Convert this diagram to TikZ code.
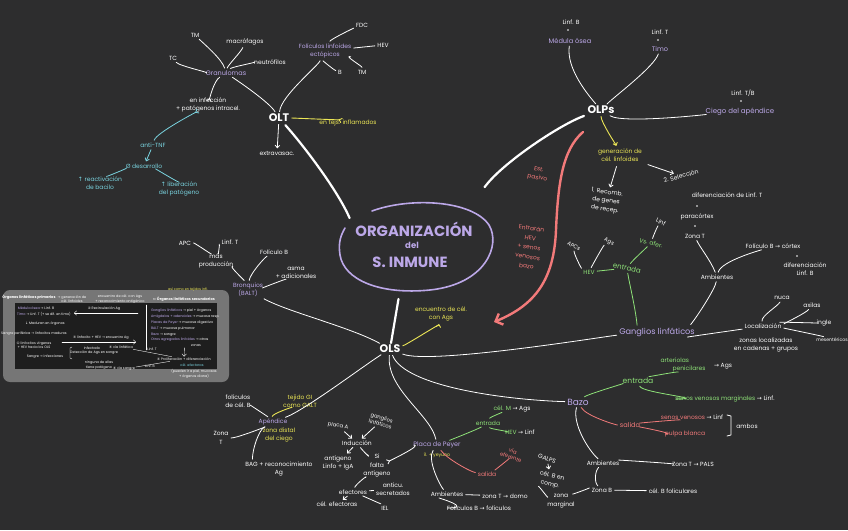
\documentclass[tikz,border=0pt]{standalone}
\usepackage{fontspec}
\setmainfont{Poppins}
\newfontfamily\symf{DejaVu Sans}
\usetikzlibrary{arrows.meta,calc}
\definecolor{board}{RGB}{45,45,46}
\definecolor{lila}{RGB}{188,168,232}
\definecolor{amar}{RGB}{236,230,86}
\definecolor{verde}{RGB}{142,226,120}
\definecolor{rosa}{RGB}{242,122,122}
\definecolor{cian}{RGB}{122,212,224}
\definecolor{marco}{RGB}{118,118,118}
\definecolor{fondo}{RGB}{30,30,30}
\newcommand{\sz}[2]{\fontsize{#1}{#2}\selectfont}
\newcommand{\flecha}{{\symf →}}

\begin{document}
\begin{tikzpicture}[x=1pt,y=-1pt,line cap=round,line join=round,
  >={Straight Barb[length=2.6pt,width=4.6pt]},
  every node/.style={inner sep=0.8pt,align=center,text=white,font=\sz{6}{8.5}},
  lav/.style={text=lila},
  ylw/.style={text=amar},
  grn/.style={text=verde},
  pnk/.style={text=rosa},
  cyn/.style={text=cian},
  hub/.style={font=\bfseries\sz{11}{13}},
  mini/.style={font=\sz{3.4}{4.4}},
  rama/.style={draw=white,line width=0.8pt,shorten >=1.5pt,shorten <=1.5pt},
  ramav/.style={rama,draw=verde},
  ramar/.style={rama,draw=rosa},
  ramay/.style={rama,draw=amar,line width=0.9pt},
  ramac/.style={rama,draw=cian},
  ramita/.style={draw=white,line width=0.35pt},
  tronco/.style={draw=white,line width=2.2pt,shorten <=3pt,shorten >=1pt}]
  \fill[board] (0,0) rectangle (848,530);
  \useasboundingbox (0,0) rectangle (848,530);

  % centro
  \node[lav,font=\bfseries\sz{14.8}{16}] (orga) at (414,229) {ORGANIZACIÓN};
  \node[lav,font=\bfseries\sz{8.5}{10}] (del) at (412,245) {del};
  \node[lav,font=\bfseries\sz{14.8}{16}] (inmu) at (410,262) {S. INMUNE};
  \draw[lila,line width=1.6pt]
    (372,211) .. controls (410,197) and (472,200) .. (489,225)
    .. controls (501,245) and (486,284) .. (430,290)
    .. controls (380,295) and (344,280) .. (340,255)
    .. controls (338,242) and (341,235) .. (345,228);
  \coordinate (eTL) at (350,219);
  \coordinate (eTR) at (484,188);
  \coordinate (eB) at (399,296);

  \node[hub] (olt) at (279,118) {OLT};
  \node[hub] (olps) at (601,110) {OLPs};
  \node[hub] (ols) at (390,349) {OLS};
  \draw[tronco] (olt) .. controls +(25,28) and +(-12,-28) .. (eTL);
  \draw[tronco] (olps) .. controls +(-40,14) and +(18,-25) .. (eTR);
  \draw[tronco] (eB) -- (ols);

  % flecha rosa
  \coordinate (pkA) at (583,132);
  \coordinate (pkB) at (494,322);
  \draw[rosa,line width=2.4pt,-{Straight Barb[length=6pt,width=12pt]}]
    (pkA) .. controls (562,150) and (558,185) .. (556,230)
    .. controls (554,280) and (535,305) .. (pkB);
  \node[pnk,rotate=-10] (est) at (538,174) {Est.\\pasivo};
  \node[pnk,rotate=-8,font=\sz{6}{9.5}] (entr) at (529,247)
    {Entrarán\\HEV\\+ senos\\venosos\\bazo};

  % OLPs
  \node (lb) at (571,22) {Linf. B};
  \fill[white] (568,30) circle (0.8);
  \node[lav,font=\sz{6.6}{8}] (mo) at (570,41) {Médula ósea};
  \node (lt) at (660,32) {Linf. T};
  \fill[white] (658,40) circle (0.8);
  \node[lav,font=\sz{6.6}{8}] (timo) at (660,49) {Timo};
  \node (ltb) at (743,93) {Linf. T/B};
  \fill[white] (741,101) circle (0.8);
  \node[lav,font=\sz{7}{8}] (ciego) at (740,112) {Ciego del apéndice};
  \draw[rama] (mo) .. controls +(-4,28) and +(-12,-14) .. (olps);
  \draw[rama] (timo) .. controls +(-6,18) and +(14,-14) .. (olps);
  \draw[rama] (olps) .. controls +(22,14) and +(-28,2) .. (ciego);
  \node[ylw] (gen) at (620,155) {generación de\\cél. linfoides};
  \draw[ramay,->] (olps) .. controls +(0,12) and +(-4,-10) .. (gen);
  \node[rotate=-8] (rec) at (606,201) {1. Recomb.\\de genes\\de recep.};
  \node[rotate=15] (sel) at (681,176) {2. Selección};
  \draw[rama,->,shorten <=4pt] (gen) -- (rec);
  \draw[rama,->,shorten <=6pt] (gen) -- (sel);

  % ganglios
  \node[lav,font=\sz{8.2}{10}] (gang) at (657,332) {Ganglios linfáticos};
  \draw[rama] (ols) .. controls +(40,16) and +(-50,4) .. (gang);
  \node[grn,rotate=-12,font=\sz{7}{8}] (gent) at (627,268) {entrada};
  \draw[ramav] ($(gang.north west)+(19,0)$) .. controls +(-2,-20) and +(2,14) .. (gent);
  \node[grn] (hevg) at (589,272) {HEV};
  \draw[ramav] (hevg) -- (gent);
  \node[rotate=-30,font=\sz{5.5}{7}] (apcs) at (574,246) {APCs};
  \node[rotate=-25,font=\sz{5.5}{7}] (agsg) at (609,242) {Ags};
  \draw[rama] (hevg) .. controls +(-8,-4) and +(0,8) .. (apcs);
  \draw[rama] (hevg) .. controls +(4,-8) and +(-6,4) .. (agsg);
  \node[grn,rotate=-15] (vaf) at (651,243) {Vs. afer.};
  \draw[ramav] (gent) .. controls +(6,-8) and +(-6,6) .. (vaf);
  \node[rotate=-25] (lnfg) at (661,222) {Linf};
  \draw[rama] (vaf) .. controls +(2,-6) and +(-4,5) .. (lnfg);
  \node (dlt) at (727,195) {diferenciación de Linf. T};
  \fill[white] (697,206) circle (0.8);
  \node (parac) at (697,217) {paracórtex};
  \fill[white] (695,226) circle (0.8);
  \node (zt) at (695,236) {Zona T};
  \node (amb1) at (717,277) {Ambientes};
  \draw[rama] (amb1) .. controls +(-6,-16) and +(4,10) .. (zt);
  \node (folb) at (773,246) {Folículo B \flecha\ córtex};
  \fill[white] (797,256) circle (0.8);
  \node (difb) at (805,269) {diferenciación\\Linf. B};
  \draw[rama] (amb1) .. controls +(4,-16) and +(-12,4) .. (folb);
  \draw[rama] ($(gang.north east)+(-6,-1)$) .. controls +(8,-10) and +(-2,12) .. (amb1);
  \node (loc) at (763,326) {Localización};
  \draw[rama] (gang) .. controls +(30,5) and +(-20,3) .. (loc);
  \node (nuca) at (782,298) {nuca};
  \node (axi) at (812,305) {axilas};
  \node (ingle) at (824,323) {ingle};
  \node[font=\sz{4.6}{6}] (mes) at (832,340) {mesentéricos};
  \node (zloc) at (766,345) {zonas localizadas\\en cadenas + grupos};
  \draw[rama] (loc) .. controls +(-2,-10) and +(-4,8) .. (nuca);
  \draw[rama] (loc) .. controls +(20,-2) and +(-6,8) .. (axi);
  \draw[rama] (loc) .. controls +(18,-4) and +(-8,0) .. (ingle);
  \draw[rama] (loc) .. controls +(20,2) and +(-10,-4) .. (mes);

  % bazo
  \node[lav,font=\sz{9}{10}] (bazo) at (578,402) {Bazo};
  \draw[rama] (ols) .. controls +(15,38) and +(-70,-2) .. (bazo);
  \node[grn,font=\sz{7.6}{9}] (entb) at (638,381) {entrada};
  \draw[ramav] (bazo) .. controls +(10,-8) and +(-12,2) .. (entb);
  \node[grn,align=left] (arter) at (683,365) {arteriolas\\\hspace*{12pt}penicilares};
  \node (agsb) at (723,366) {\flecha\ Ags};
  \draw[ramav] (entb) .. controls +(10,-4) and +(-4,6) .. (arter);
  \node[grn] (senm) at (725,399) {senos venosos marginales \textcolor{white}{\flecha\ Linf.}};
  \draw[ramav] (entb) .. controls +(4,12) and +(-14,0) .. (senm);
  \node[pnk,font=\sz{6.6}{8}] (salb) at (630,425) {salida};
  \draw[ramar] (bazo) .. controls +(8,14) and +(-14,0) .. (salb);
  \node[pnk] (senv) at (692,417) {senos venosos \textcolor{white}{\flecha\ Linf}};
  \node[pnk] (pulpa) at (685,434) {pulpa blanca};
  \draw[ramar] (salb) .. controls +(10,-2) and +(-8,2) .. (senv);
  \draw[ramar] (salb) .. controls +(10,2) and +(-8,0) .. (pulpa);
  \draw[white,line width=0.8pt] (727,415) -- (731,416) -- (731,435) -- (727,436);
  \node (ambos) at (747,426) {ambos};
  \node (ambb) at (603,463) {Ambientes};
  \draw[rama] (bazo) .. controls +(-6,22) and +(-14,-12) .. (ambb);
  \node (ztb) at (693,464) {Zona T \flecha\ PALS};
  \draw[rama] (ambb) .. controls +(16,-3) and +(-12,0) .. (ztb);
  \node (zbb) at (602,490) {Zona B};
  \draw[rama] (ambb) .. controls +(-8,8) and +(-8,-8) .. (zbb);
  \node (cbf) at (673,491) {cél. B foliculares};
  \draw[rama] (zbb) -- (cbf);
  \node[rotate=-20] (galps) at (547,459) {GALPS};
  \node[rotate=-15] (celbz) at (551,480) {cél. B en\\comp.};
  \node (zmar) at (561,501) {zona\\marginal};
  \draw[rama,->] (galps) -- (celbz);
  \draw[rama] (celbz) .. controls +(-12,6) and +(-14,-4) .. (zmar);
  \draw[rama] (zbb) .. controls +(-12,-2) and +(10,-6) .. (zmar);

  % placa de Peyer
  \node[lav,font=\sz{6.4}{8}] (placa) at (437,445) {Placa de Peyer};
  \node[ylw,font=\sz{4.6}{6}] (ily) at (437,455) {íl. + yeyuno};
  \draw[rama] (ols) .. controls +(-4,40) and +(-6,-30) .. (placa);
  \node[grn] (entp) at (488,423) {entrada};
  \draw[ramav] (placa) .. controls +(16,-6) and +(-10,6) .. (entp);
  \node[grn] (celm) at (512,409) {cél. M \textcolor{white}{\flecha\ Ags}};
  \node[grn] (hevp) at (520,432) {HEV \textcolor{white}{\flecha\ Linf}};
  \draw[ramav] (entp) .. controls +(2,-6) and +(-6,2) .. (celm);
  \draw[ramav] (entp) .. controls +(2,6) and +(-6,0) .. (hevp);
  \node[pnk] (salp) at (487,474) {salida};
  \draw[ramar] (placa) .. controls +(10,14) and +(-16,-2) .. (salp);
  \node[pnk,rotate=-20,font=\sz{5.4}{6.4}] (vlinf) at (512,454) {vía\\eferente};
  \draw[ramar] (salp) .. controls +(8,-4) and +(-3,5) .. (vlinf);
  \node (ambp) at (447,494) {Ambientes};
  \draw[rama] (placa) .. controls +(-10,14) and +(-8,-10) .. (ambp);
  \node (ztp) at (505,496) {zona T \flecha\ domo};
  \draw[rama] (ambp) -- (ztp);
  \node (fbp) at (479,508) {Folículos B \flecha\ folículos};
  \draw[rama] (ambp) .. controls +(-8,4) and +(-6,0) .. (fbp);

  % induccion
  \node (induc) at (357,443) {Inducción};
  \node[rotate=-10,font=\sz{5.4}{6.6}] (placaA) at (338,426) {placa A};
  \node[rotate=-15,font=\sz{5.2}{6.2}] (ganl) at (381,421) {ganglios\\linfáticos};
  \draw[rama,->] (placaA) -- (induc);
  \draw[rama,->] (ganl) -- (induc);
  \node (linfo) at (338,463) {antígeno\\Linfo + IgA};
  \draw[rama,->] (induc) -- (linfo);
  \node (si) at (377,466) {Si\\falta\\antígeno};
  \draw[rama] (induc) .. controls +(6,8) and +(-5,-6) .. (si);
  \draw[rama,->] (placa) .. controls +(-14,0) and +(10,-4) .. (si);
  \node (efect) at (353,492) {efectores};
  \node (celef) at (337,504) {cél. efectoras};
  \draw[rama] (si) .. controls +(-8,8) and +(3,-8) .. (efect);
  \draw[rama,->] (efect) -- (celef);
  \node (anti) at (393,489) {anticu.\\secretados};
  \draw[rama] (efect) -- (anti);
  \node (iel) at (385,508) {IEL};
  \draw[rama] (efect) .. controls +(10,4) and +(-4,-4) .. (iel);

  % apendice
  \node[lav] (apen) at (273,422) {Apéndice};
  \node[ylw] (apy) at (279,435) {zona distal\\del ciego};
  \node[ylw] (galt) at (300,401) {tejido GI\\como GALT};
  \draw[ramay] (apen) .. controls +(-1,-8) and +(-6,5) .. (galt);
  \draw[rama] (ols) .. controls +(-28,18) and +(32,-12) .. (apen);
  \node (folcb) at (238,401) {folículos\\de cél. B};
  \node (zt2) at (221,438) {Zona\\T};
  \node (bag) at (279,469) {BAG + reconocimiento\\Ag};
  \draw[rama] (folcb) .. controls +(12,4) and +(-6,-6) .. (apen);
  \draw[rama] (zt2) .. controls +(16,0) and +(-8,5) .. (apen);
  \draw[rama] (apen) .. controls +(-14,8) and +(0,-12) .. ($(bag.north west)+(8,0)$);

  % bronquios
  \node[lav] (bronq) at (248,290) {Bronquios\\(BALT)};
  \node (folb2) at (274,252) {Folículo B};
  \node (asma) at (296,273) {asma\\+ adicionales};
  \node (apc) at (185,243) {APC};
  \node (lt2) at (230,242) {Linf. T};
  \node (masp) at (216,261) {más\\producción};
  \draw[rama] (ols) .. controls +(-40,-22) and +(40,22) .. (bronq);
  \draw[rama] (bronq) .. controls +(2,-16) and +(-10,6) .. (folb2);
  \draw[rama] (bronq) .. controls +(14,-2) and +(-8,5) .. (asma);
  \draw[rama] (masp) .. controls +(12,4) and +(-4,-10) .. (bronq);
  \draw[rama] (apc) .. controls +(10,0) and +(-4,-6) .. (masp);
  \draw[rama] (lt2) .. controls +(-10,2) and +(2,-6) .. (masp);
  \node[ylw] (encu) at (441,314) {encuentro de cél.\\con Ags};
  \draw[ramay,->] (ols) .. controls +(16,-4) and +(-2,10) .. (encu);

  % OLT
  \node[lav,font=\sz{6.5}{8}] (gran) at (226,73) {Granulomas};
  \node (tm1) at (195,35) {TM};
  \node (macro) at (245,42) {macrófagos};
  \node (tc) at (173,58) {TC};
  \node (neut) at (270,62) {neutrófilos};
  \node (infe) at (208,105) {en infección\\+ patógenos intracel.};
  \draw[rama] (olt) .. controls +(-10,-16) and +(12,8) .. (gran);
  \draw[rama] (tm1) .. controls +(8,8) and +(-4,-14) .. (gran);
  \draw[rama] (macro) .. controls +(-4,10) and +(2,-8) .. (gran);
  \draw[rama] (tc) .. controls +(6,8) and +(-14,0) .. (gran);
  \draw[rama] (neut) .. controls +(-12,0) and +(6,-6) .. (gran);
  \draw[rama,->] (gran) .. controls +(-12,8) and +(2,-8) .. (infe);
  \node[lav] (folec) at (325,51) {Folículos linfoides\\ectópicos};
  \node (fdc) at (362,25) {FDC};
  \node (hev1) at (383,45) {HEV};
  \node (b1) at (340,72) {B};
  \node (tm2) at (362,72) {TM};
  \draw[rama] (olt) .. controls +(2,-22) and +(-8,16) .. (folec);
  \draw[rama] (folec) .. controls +(6,-12) and +(-8,3) .. (fdc);
  \draw[rama] (folec) -- (hev1);
  \draw[rama] (folec) .. controls +(-2,10) and +(-6,-2) .. (b1);
  \draw[rama] (folec) .. controls +(18,4) and +(0,-6) .. (tm2);
  \node[ylw] (inflam) at (348,123) {en tejs. inflamados};
  \draw[ramay,->] (olt) .. controls +(12,0) and +(-8,-3) .. (inflam);
  \node (extra) at (277,153) {extravasac.};
  \draw[rama,->] (olt) -- (extra);
  \node[cyn] (antitnf) at (153,145) {anti-TNF};
  \draw[ramac,->] (antitnf) .. controls +(3,-12) and +(-10,6) .. (infe);
  \node[cyn] (gdes) at (144,166) {Ø desarrollo};
  \draw[ramac,->] (antitnf) -- (gdes);
  \node[cyn] (react) at (100,183) {{\symf ↑} reactivación\\de bacilo};
  \node[cyn] (liber) at (179,189) {{\symf ↑} liberación\\del patógeno};
  \draw[ramac] (gdes) .. controls +(-16,2) and +(6,-6) .. (react);
  \draw[ramac] (gdes) .. controls +(12,3) and +(0,-6) .. (liber);

  % recuadro resumen
  \fill[marco,rounded corners=7pt] (3,290) rectangle (229,382);
  \fill[fondo] (15,303) rectangle (217,369);
  \node[mini,font=\bfseries\sz{3.6}{4.4}] (iolp) at (29,297) {Órganos linfáticos primarios};
  \node[mini] (igen) at (72,299) {\flecha\ generación de\\cél. linfoides};
  \node[mini] (ienc) at (120,299) {encuentro de cél. con Ags\\+ reconocimiento antigénico};
  \node[mini,font=\bfseries\sz{3.6}{4.4}] (iols) at (184,299) {{\symf ⇐} Órganos linfáticos secundarios};
  \node[mini,ylw] (itej) at (188,290) {así como en tejidos infl.};
  \node[mini,lav] (imo) at (36,308) {Médula ósea \textcolor{white}{\flecha\ Linf. B}};
  \node[mini,lav] (itim) at (44,314) {Timo \textcolor{white}{\flecha\ Linf. T (+ se dif. en timo)}};
  \node[mini] (irec) at (104,309) {{\symf ②} Recirculación Ag};
  \coordinate (ir1) at (138,313);
  \coordinate (ir2) at (74,313);
  \draw[ramita,->] (ir1) -- (ir2);
  \node[mini] (imad) at (45,324) {{\symf ↓} Maduran en órganos};
  \node[mini] (isan) at (34,334) {Sangre periférica \flecha\ linfocitos maduros};
  \node[mini] (ivir) at (34,345) {{\symf ①} linfocitos vírgenes\\+ HEV hacia los OLS};
  \node[mini] (ienc2) at (101,338) {{\symf ③} linfocito + HEV \flecha\ encuentro Ag};
  \coordinate (ia1) at (62,342);
  \coordinate (ia2) at (136,342);
  \draw[ramita,->] (ia1) -- (ia2);
  \node[mini,anchor=west,align=left,font=\sz{3.4}{5.8}] (ilist) at (150,328)
    {\textcolor{lila}{Ganglios linfáticos} \flecha\ piel + órganos\\
     \textcolor{lila}{Amígdalas + adenoides} \flecha\ mucosa resp.\\
     \textcolor{lila}{Placas de Peyer} \flecha\ mucosa digestiva\\
     \textcolor{lila}{BALT} \flecha\ mucosa pulmonar\\
     \textcolor{lila}{Bazo} \flecha\ sangre\\
     \textcolor{lila}{Otros agregados linfoides} \flecha\ otras\\
     \hspace*{40pt}zonas};
  \draw[ramita] (146,305) -- (146,350);
  \node[mini] (iprol) at (184,359) {{\symf ④} Proliferación + diferenciación};
  \draw[ramita,->] (ilist) -- (iprol);
  \node[mini,cyn] (iefe) at (192,365) {cél. efectoras};
  \node[mini] (ipue) at (194,374) {(pueden ir a piel, mucosas\\+ órganos diana)};
  \node[mini] (iinfec) at (92,348) {Infectado};
  \node[mini] (ireac) at (94,353) {Detección de Ags en sangre};
  \node[mini] (isang) at (45,357) {Sangre \flecha\ infecciones};
  \draw[ramita] (72,347) -- (70,348) -- (70,358) -- (72,359);
  \node[mini] (inin) at (99,365) {ninguna de ellas\\tiene patógeno};
  \node[mini] (icin) at (121,347) {{\symf ⑤} vía linfática};
  \node[mini] (iseis) at (124,369) {{\symf ⑥} vía sangre};
  \node[mini] (ilt) at (152,349) {Linf. T};
  \node[mini] (ilb) at (150,366) {Linf. B};
  \draw[ramita] (icin) -- (iprol);
  \draw[ramita] (iseis) -- (iprol);
\end{tikzpicture}
\end{document}
